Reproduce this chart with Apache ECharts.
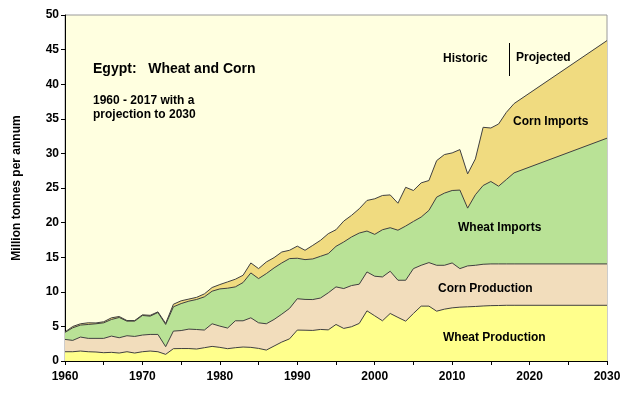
<!DOCTYPE html>
<html>
<head>
<meta charset="utf-8">
<script src="https://cdn.jsdelivr.net/npm/echarts@6/dist/echarts.min.js"></script>
<style>
  html, body { margin: 0; padding: 0; background: #fff; }
  #chart { width: 625px; height: 398px; }
</style>
</head>
<body>
<div id="chart"></div>
<script>
// years (historic 1960-2018, then projection end point 2030)
const years = [1960, 1961, 1962, 1963, 1964, 1965, 1966, 1967, 1968, 1969,
  1970, 1971, 1972, 1973, 1974, 1975, 1976, 1977, 1978, 1979,
  1980, 1981, 1982, 1983, 1984, 1985, 1986, 1987, 1988, 1989,
  1990, 1991, 1992, 1993, 1994, 1995, 1996, 1997, 1998, 1999,
  2000, 2001, 2002, 2003, 2004, 2005, 2006, 2007, 2008, 2009,
  2010, 2011, 2012, 2013, 2014, 2015, 2016, 2017, 2018, 2030];

// million tonnes per annum
const wheatProduction = [1.34, 1.34, 1.44, 1.34, 1.30, 1.20, 1.25, 1.15, 1.34, 1.15,
  1.34, 1.44, 1.34, 0.96, 1.78, 1.80, 1.80, 1.73, 1.92, 2.11,
  1.97, 1.78, 1.92, 2.02, 1.97, 1.82, 1.58, 2.16, 2.74, 3.20,
  4.47, 4.45, 4.42, 4.56, 4.50, 5.28, 4.71, 4.95, 5.43, 7.25,
  6.53, 5.81, 6.87, 6.30, 5.76, 6.87, 7.93, 7.93, 7.20, 7.49,
  7.68, 7.78, 7.83, 7.88, 7.95, 8.00, 8.02, 8.05, 8.05, 8.05];

const cornProduction = [1.78, 1.64, 2.02, 1.93, 1.97, 2.07, 2.35, 2.21, 2.31, 2.40,
  2.41, 2.40, 2.50, 1.11, 2.54, 2.60, 2.81, 2.82, 2.55, 3.27,
  3.07, 2.98, 3.89, 3.79, 4.27, 3.70, 3.80, 3.84, 4.03, 4.40,
  4.53, 4.45, 4.46, 4.54, 5.35, 5.43, 5.76, 5.95, 5.67, 5.62,
  5.72, 6.34, 6.10, 5.37, 5.91, 6.48, 5.90, 6.29, 6.63, 6.34,
  6.49, 5.57, 5.91, 5.95, 6.03, 6.03, 6.01, 5.98, 5.98, 5.98];

const wheatImports = [1.01, 1.82, 1.73, 2.01, 2.11, 2.25, 2.40, 2.93, 2.11, 2.21,
  2.83, 2.64, 3.17, 3.21, 3.51, 3.90, 4.04, 4.34, 4.80, 4.71,
  5.38, 5.76, 4.90, 5.53, 6.49, 6.39, 7.25, 7.45, 7.40, 7.20,
  5.85, 5.75, 5.87, 6.03, 5.66, 5.86, 6.73, 7.02, 7.39, 5.91,
  6.05, 6.82, 6.29, 7.23, 7.83, 6.82, 6.97, 7.54, 9.85, 10.43,
  10.47, 11.35, 8.35, 10.19, 11.38, 11.91, 11.23, 12.19, 13.16, 18.17];

const cornImports = [0.07, 0.19, 0.19, 0.24, 0.12, 0.15, 0.24, 0.14, 0.09, 0.09,
  0.09, 0.12, 0.09, 0.15, 0.37, 0.40, 0.30, 0.31, 0.43, 0.53,
  0.63, 0.91, 1.11, 1.05, 1.44, 1.44, 1.68, 1.49, 1.58, 1.20,
  1.75, 1.35, 1.96, 2.31, 2.89, 2.40, 3.02, 3.12, 3.51, 4.42,
  5.14, 4.95, 4.74, 3.90, 5.60, 4.47, 4.94, 4.32, 5.28, 5.57,
  5.43, 5.85, 4.95, 5.18, 8.41, 7.73, 8.99, 9.71, 10.01, 14.10];

const font = "'Liberation Sans', Arial, sans-serif";

// running totals, layer by layer (stacked area drawn back to front)
const layers = [
  {name: 'Wheat Production', vals: wheatProduction, color: '#FFFF8C'},
  {name: 'Corn Production', vals: cornProduction, color: '#F2DDBC'},
  {name: 'Wheat Imports', vals: wheatImports, color: '#B9E296'},
  {name: 'Corn Imports', vals: cornImports, color: '#F0DB80'}
];
let running = years.map(() => 0);
const series = layers.map((l, k) => {
  running = running.map((r, i) => r + l.vals[i]);
  return {
    name: l.name,
    type: 'line',
    symbol: 'none',
    data: years.map((y, i) => [y, +running[i].toFixed(3)]),
    lineStyle: {color: '#404040', width: 1},
    areaStyle: {color: l.color, opacity: 1},
    z: 10 - k
  };
});

let myChart = echarts.init(document.getElementById('chart'));
myChart.setOption({
  animation: false,
  backgroundColor: '#ffffff',
  grid: {
    left: 65, right: 18, top: 15, bottom: 37,
    show: true,
    backgroundColor: '#FFFFE0',
    borderColor: '#9a9a9a',
    borderWidth: 1
  },
  xAxis: {
    type: 'value',
    min: 1960, max: 2030, interval: 5,
    axisLine: {show: true, lineStyle: {color: '#000', width: 1}},
    axisTick: {show: true, length: 4, lineStyle: {color: '#000'}},
    splitLine: {show: false},
    axisLabel: {
      color: '#000', fontFamily: font, fontWeight: 'bold', fontSize: 12, margin: 10,
      formatter: v => (v % 10 === 0 ? String(v) : '')
    }
  },
  yAxis: {
    type: 'value',
    min: 0, max: 50, interval: 5,
    name: 'Million tonnes per annum',
    nameLocation: 'middle',
    nameGap: 42,
    nameTextStyle: {color: '#000', fontFamily: font, fontWeight: 'bold', fontSize: 12},
    axisLine: {show: true, lineStyle: {color: '#000', width: 1}},
    axisTick: {show: true, length: 4, lineStyle: {color: '#000'}},
    splitLine: {show: false},
    axisLabel: {color: '#000', fontFamily: font, fontWeight: 'bold', fontSize: 12, margin: 6}
  },
  series: series,
  graphic: [
    {type: 'text', left: 93, top: 62, z: 100,
      style: {text: 'Egypt:   Wheat and Corn', font: 'bold 14px ' + font, fill: '#000'}},
    {type: 'text', left: 93, top: 94, z: 100,
      style: {text: '1960 - 2017 with a\nprojection to 2030', font: 'bold 12px ' + font, fill: '#000', lineHeight: 14}},
    {type: 'text', left: 443, top: 53, z: 100,
      style: {text: 'Historic', font: 'bold 12px ' + font, fill: '#000'}},
    {type: 'line', z: 100, shape: {x1: 509.5, y1: 43, x2: 509.5, y2: 76},
      style: {stroke: '#000', lineWidth: 1}},
    {type: 'text', left: 516, top: 52, z: 100,
      style: {text: 'Projected', font: 'bold 12px ' + font, fill: '#000'}},
    {type: 'text', left: 513, top: 116, z: 100,
      style: {text: 'Corn Imports', font: 'bold 12px ' + font, fill: '#000'}},
    {type: 'text', left: 458, top: 222, z: 100,
      style: {text: 'Wheat Imports', font: 'bold 12px ' + font, fill: '#000'}},
    {type: 'text', left: 438, top: 283, z: 100,
      style: {text: 'Corn Production', font: 'bold 12px ' + font, fill: '#000'}},
    {type: 'text', left: 443, top: 332, z: 100,
      style: {text: 'Wheat Production', font: 'bold 12px ' + font, fill: '#000'}}
  ]
});
</script>
</body>
</html>
